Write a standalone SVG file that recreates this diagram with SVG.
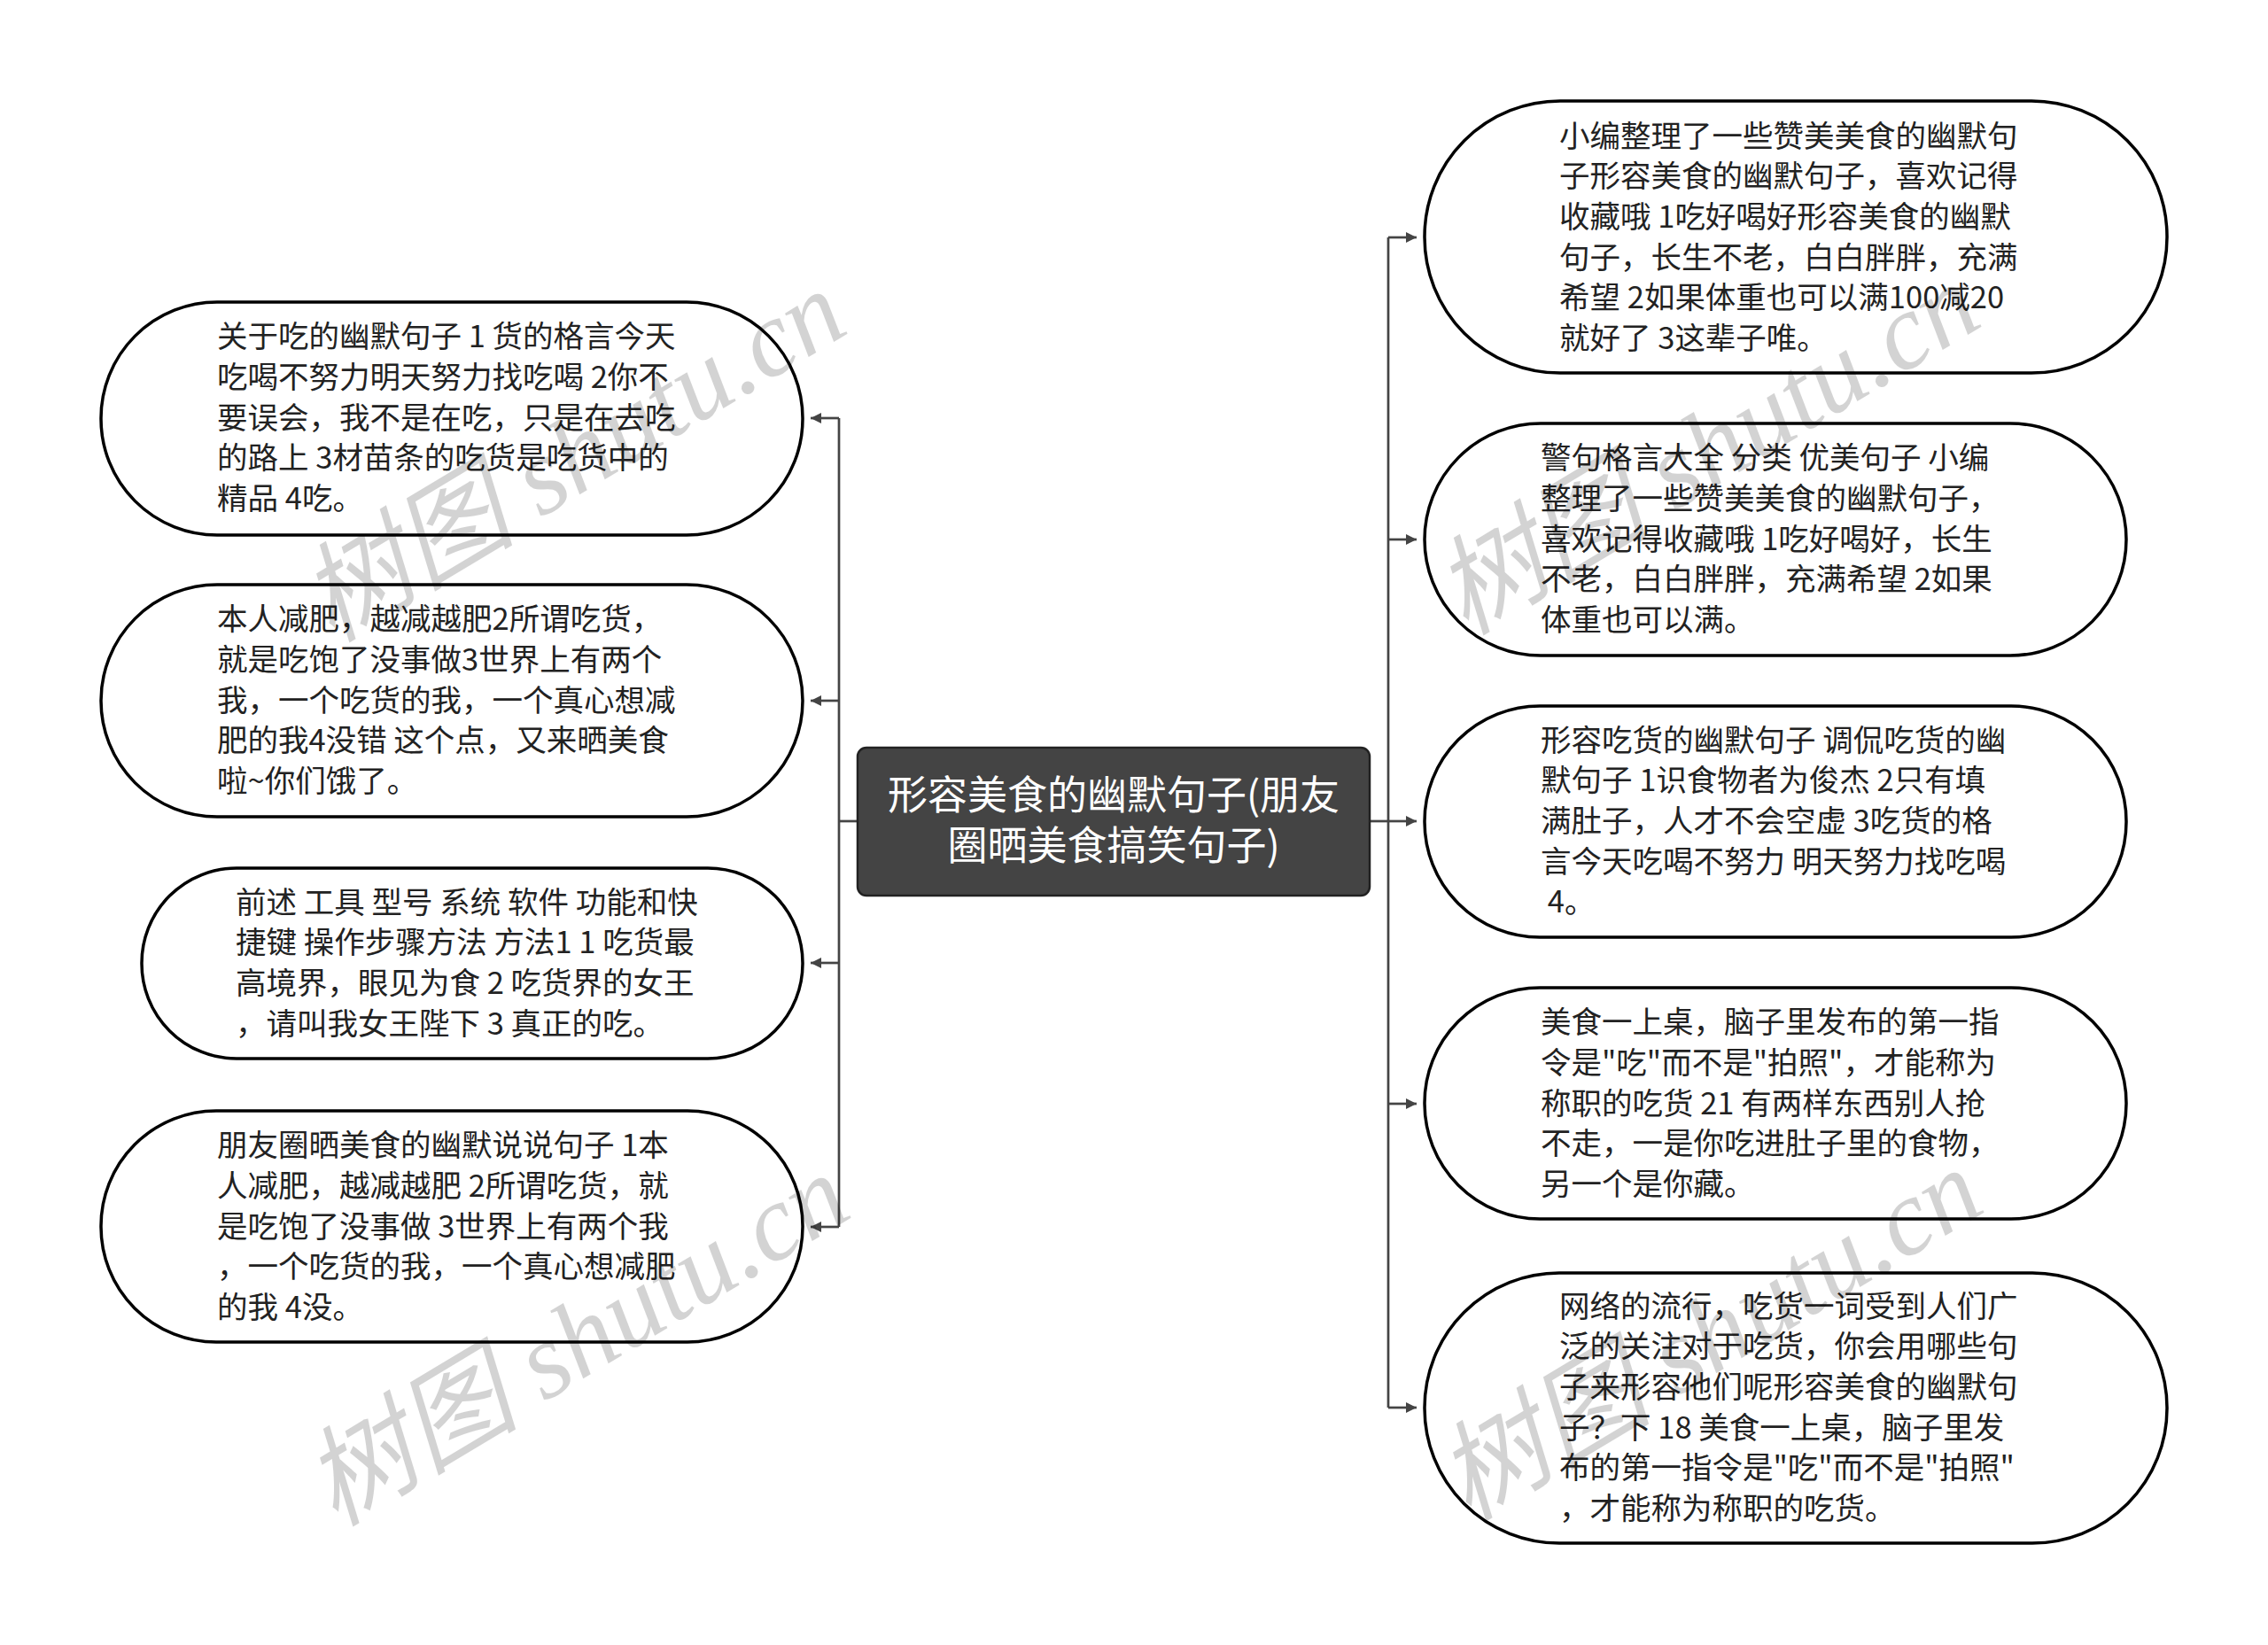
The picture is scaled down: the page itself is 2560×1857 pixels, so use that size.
<svg xmlns="http://www.w3.org/2000/svg" width="2560" height="1857" viewBox="0 0 2560 1857">
<style>
.node{fill:#fff;stroke:#000;stroke-width:3.5}
.t{font-family:"Noto Sans CJK SC","Noto Sans",sans-serif;font-size:34.5px;fill:#222;white-space:pre}
.ct{font-family:"Noto Sans CJK SC","Noto Sans",sans-serif;font-size:45px;fill:#fff;text-anchor:middle}
.c{fill:none;stroke:#444;stroke-width:2.7}
.wm{font-family:"Liberation Serif","Noto Sans CJK SC",serif;font-style:italic;font-size:122px;fill:#000;opacity:0.17;text-anchor:middle}
</style>
<defs>
<marker id="ar" markerUnits="userSpaceOnUse" markerWidth="14" markerHeight="14" refX="12" refY="7" orient="auto">
<path d="M0,1 L12,7 L0,13 z" fill="#444"/>
</marker>
</defs>
<rect width="2560" height="1857" fill="#fff"/>
<g id="connectors">
<path class="c" d="M968,927 H947"/>
<path class="c" d="M947,472 V1385"/>
<path class="c" d="M947,472 H915" marker-end="url(#ar)"/>
<path class="c" d="M947,791 H915" marker-end="url(#ar)"/>
<path class="c" d="M947,1087 H915" marker-end="url(#ar)"/>
<path class="c" d="M947,1385 H915" marker-end="url(#ar)"/>
<path class="c" d="M1546,927 H1567"/>
<path class="c" d="M1567,268 V1589"/>
<path class="c" d="M1567,268 H1599" marker-end="url(#ar)"/>
<path class="c" d="M1567,609 H1599" marker-end="url(#ar)"/>
<path class="c" d="M1567,927 H1599" marker-end="url(#ar)"/>
<path class="c" d="M1567,1246 H1599" marker-end="url(#ar)"/>
<path class="c" d="M1567,1589 H1599" marker-end="url(#ar)"/>
</g>
<g id="center">
<rect x="968" y="844" width="578" height="167" rx="10" fill="#444" stroke="#222" stroke-width="2.5"/>
<text class="ct" x="1257" y="914">形容美食的幽默句子(朋友</text>
<text class="ct" x="1257" y="971">圈晒美食搞笑句子)</text>
</g>
<g id="left1">
<rect class="node" x="114" y="341" width="792" height="263" rx="131" ry="131"/>
<text class="t" x="245" y="392">关于吃的幽默句子 1 货的格言今天</text>
<text class="t" x="245" y="438">吃喝不努力明天努力找吃喝 2你不</text>
<text class="t" x="245" y="484">要误会，我不是在吃，只是在去吃</text>
<text class="t" x="245" y="529">的路上 3材苗条的吃货是吃货中的</text>
<text class="t" x="245" y="575">精品 4吃。</text>
</g>
<g id="left2">
<rect class="node" x="114" y="660" width="792" height="262" rx="131" ry="131"/>
<text class="t" x="245" y="711">本人减肥，越减越肥2所谓吃货，</text>
<text class="t" x="245" y="757">就是吃饱了没事做3世界上有两个</text>
<text class="t" x="245" y="803">我，一个吃货的我，一个真心想减</text>
<text class="t" x="245" y="848">肥的我4没错 这个点，又来晒美食</text>
<text class="t" x="245" y="894">啦~你们饿了。</text>
</g>
<g id="left3">
<rect class="node" x="160" y="980" width="746" height="215" rx="107" ry="107"/>
<text class="t" x="266" y="1031">前述 工具 型号 系统 软件 功能和快</text>
<text class="t" x="266" y="1076">捷键 操作步骤方法 方法1 1 吃货最</text>
<text class="t" x="266" y="1122">高境界，眼见为食 2 吃货界的女王</text>
<text class="t" x="266" y="1168">，请叫我女王陛下 3 真正的吃。</text>
</g>
<g id="left4">
<rect class="node" x="114" y="1254" width="792" height="261" rx="130" ry="130"/>
<text class="t" x="245" y="1305">朋友圈晒美食的幽默说说句子 1本</text>
<text class="t" x="245" y="1351">人减肥，越减越肥 2所谓吃货，就</text>
<text class="t" x="245" y="1397">是吃饱了没事做 3世界上有两个我</text>
<text class="t" x="245" y="1442">，一个吃货的我，一个真心想减肥</text>
<text class="t" x="245" y="1488">的我 4没。</text>
</g>
<g id="right1">
<rect class="node" x="1608" y="114" width="838" height="307" rx="153" ry="153"/>
<text class="t" x="1760" y="166">小编整理了一些赞美美食的幽默句</text>
<text class="t" x="1760" y="211">子形容美食的幽默句子，喜欢记得</text>
<text class="t" x="1760" y="257">收藏哦 1吃好喝好形容美食的幽默</text>
<text class="t" x="1760" y="303">句子，长生不老，白白胖胖，充满</text>
<text class="t" x="1760" y="348">希望 2如果体重也可以满100减20</text>
<text class="t" x="1760" y="394">就好了 3这辈子唯。</text>
</g>
<g id="right2">
<rect class="node" x="1608" y="478" width="792" height="262" rx="131" ry="131"/>
<text class="t" x="1739" y="529">警句格言大全 分类 优美句子 小编</text>
<text class="t" x="1739" y="575">整理了一些赞美美食的幽默句子，</text>
<text class="t" x="1739" y="621">喜欢记得收藏哦 1吃好喝好，长生</text>
<text class="t" x="1739" y="666">不老，白白胖胖，充满希望 2如果</text>
<text class="t" x="1739" y="712">体重也可以满。</text>
</g>
<g id="right3">
<rect class="node" x="1608" y="797" width="792" height="261" rx="130" ry="130"/>
<text class="t" x="1739" y="848">形容吃货的幽默句子 调侃吃货的幽</text>
<text class="t" x="1739" y="893">默句子 1识食物者为俊杰 2只有填</text>
<text class="t" x="1739" y="939">满肚子，人才不会空虚 3吃货的格</text>
<text class="t" x="1739" y="985">言今天吃喝不努力 明天努力找吃喝</text>
<text class="t" x="1739" y="1030"> 4。</text>
</g>
<g id="right4">
<rect class="node" x="1608" y="1115" width="792" height="261" rx="130" ry="130"/>
<text class="t" x="1739" y="1166">美食一上桌，脑子里发布的第一指</text>
<text class="t" x="1739" y="1212">令是"吃"而不是"拍照"，才能称为</text>
<text class="t" x="1739" y="1258">称职的吃货 21 有两样东西别人抢</text>
<text class="t" x="1739" y="1303">不走，一是你吃进肚子里的食物，</text>
<text class="t" x="1739" y="1349">另一个是你藏。</text>
</g>
<g id="right5">
<rect class="node" x="1608" y="1437" width="838" height="305" rx="152" ry="152"/>
<text class="t" x="1760" y="1487">网络的流行，吃货一词受到人们广</text>
<text class="t" x="1760" y="1532">泛的关注对于吃货，你会用哪些句</text>
<text class="t" x="1760" y="1578">子来形容他们呢形容美食的幽默句</text>
<text class="t" x="1760" y="1624">子？下 18 美食一上桌，脑子里发</text>
<text class="t" x="1760" y="1669">布的第一指令是"吃"而不是"拍照"</text>
<text class="t" x="1760" y="1715">，才能称为称职的吃货。</text>
</g>
<g id="watermarks">
<text class="wm" transform="translate(668,550) rotate(-31)">树图 shutu.cn</text>
<text class="wm" transform="translate(672,1548) rotate(-31)">树图 shutu.cn</text>
<text class="wm" transform="translate(1948,542) rotate(-31)">树图 shutu.cn</text>
<text class="wm" transform="translate(1951,1542) rotate(-31)">树图 shutu.cn</text>
</g>
</svg>
